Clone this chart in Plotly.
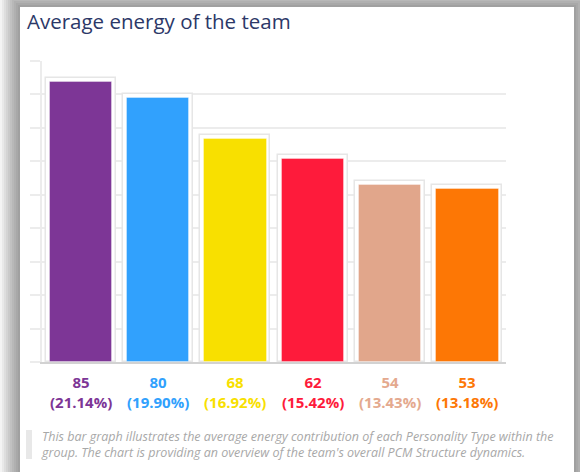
import plotly.graph_objects as go

# ---- data ----
categories = ["Type 1", "Type 2", "Type 3", "Type 4", "Type 5", "Type 6"]
values = [85, 80, 68, 62, 54, 53]
colors = ["#7d3696", "#31a1fd", "#f8e000", "#fe1b3b", "#e1a68b", "#fd7705"]
label_colors = ["#7d3696", "#31a1fd", "#f8e000", "#fe1b3b", "#e4a98e", "#fd7705"]
title_text = "Average energy of the team"
caption_lines = [
    "This bar graph illustrates the average energy contribution of each Personality Type within the",
    "group. The chart is providing an overview of the team's overall PCM Structure dynamics.",
]

W, H = 580, 472
L, R, T, B = 42, 74, 61, 110
PW, PH = W - L - R, H - T - B
YMAX = 90


def px_x(p):
    return (p - L) / PW


def px_y(p):
    return (H - B - p) / PH


total = sum(values)
pad = 4 * YMAX / PH  # white inset above coloured fill

fig = go.Figure()
fig.add_trace(go.Bar(
    x=categories, y=values, width=0.906,
    marker=dict(color="white", line=dict(color="#e6e6e6", width=1.5)),
    hoverinfo="skip", showlegend=False,
))
fig.add_trace(go.Bar(
    x=categories, y=[v - pad for v in values], width=0.806,
    marker=dict(color=colors, line=dict(color="rgba(255,255,255,0.35)", width=1)),
    hoverinfo="skip", showlegend=False,
))

shapes = []
# soft shadow around the card
card = (20, 7, 574, 480)
for i in range(1, 11):
    e = 2 * i
    shapes.append(dict(type="rect", xref="paper", yref="paper", layer="below",
                       x0=px_x(card[0] - e), x1=px_x(card[2] + e),
                       y0=px_y(card[3] + e), y1=px_y(card[1] - e),
                       fillcolor="rgba(0,0,0,0.045)", line=dict(width=0)))
shapes.append(dict(type="rect", xref="paper", yref="paper", layer="below",
                   x0=px_x(card[0]), x1=px_x(card[2]), y0=px_y(card[3]), y1=px_y(card[1]),
                   fillcolor="white", line=dict(width=0)))
# caption side bar
shapes.append(dict(type="rect", xref="paper", yref="paper", layer="above",
                   x0=px_x(26), x1=px_x(32), y0=px_y(459), y1=px_y(430),
                   fillcolor="#e8e8e8", line=dict(width=0)))

annotations = []
for c, v, col in zip(categories, values, label_colors):
    pct = v / total * 100
    annotations.append(dict(
        x=c, xref="x", y=px_y(392), yref="paper", yanchor="middle",
        text=f"<b>{v}<br>({pct:.2f}%)</b>", showarrow=False,
        font=dict(family="Open Sans", size=15, color=col), align="center",
    ))
annotations.append(dict(
    x=px_x(39), xref="paper", xanchor="left",
    y=px_y(444), yref="paper", yanchor="middle",
    text="<i>" + "<br>".join(caption_lines) + "</i>", showarrow=False,
    font=dict(family="Open Sans", size=12.5, color="#a8a8a8"), align="left",
))
annotations.append(dict(
    x=px_x(25), xref="paper", xanchor="left", y=px_y(21), yref="paper", yanchor="middle",
    text=title_text, showarrow=False,
    font=dict(family="Open Sans", size=20.5, color="#2c3868"),
))

fig.update_layout(
    width=W, height=H, autosize=False,
    margin=dict(l=L, r=R, t=T, b=B, pad=0),
    paper_bgcolor="white", plot_bgcolor="rgba(0,0,0,0)",
    barmode="overlay", bargap=0,
    shapes=shapes, annotations=annotations,
    xaxis=dict(showticklabels=False, ticks="", showgrid=False, zeroline=False,
               showline=True, linecolor="#d2d2d2", linewidth=1.5, fixedrange=True),
    yaxis=dict(range=[0, YMAX], dtick=10, showticklabels=False, showgrid=True,
               gridcolor="#ececec", gridwidth=2, zeroline=False,
               showline=True, linecolor="#ececec", linewidth=2,
               ticks="outside", ticklen=10, tickcolor="#ececec", tickwidth=2,
               fixedrange=True),
)

fig.write_html("out.html", config={"displayModeBar": False},
               post_script="document.body.style.margin='0';document.body.style.padding='0';")
